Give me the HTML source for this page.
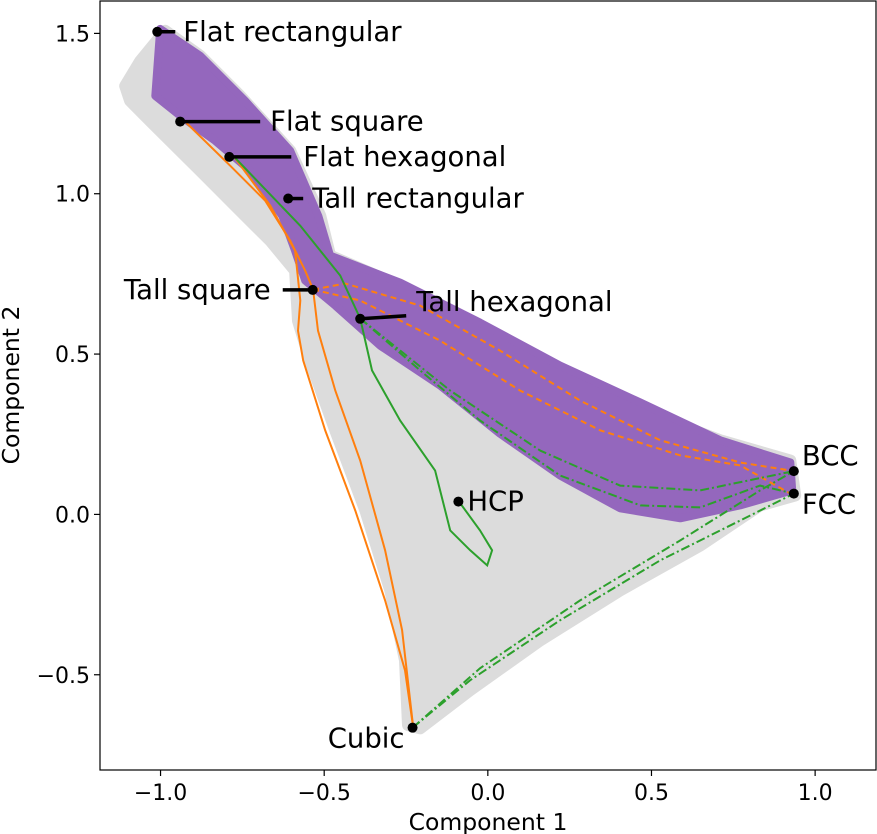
<!DOCTYPE html>
<html><head><meta charset="utf-8"><style>
body{margin:0;background:#fff;}
svg{display:block;font-family:"DejaVu Sans","Liberation Sans",sans-serif;}
</style></head><body>
<svg id="chart" width="877" height="834"></svg>
<script>
const xTicks=[-1.0,-0.5,0.0,0.5,1.0];
const xTickLabels=["\u22121.0","\u22120.5","0.0","0.5","1.0"];
const yTicks=[-0.5,0.0,0.5,1.0,1.5];
const yTickLabels=["\u22120.5","0.0","0.5","1.0","1.5"];
const grayX=[-1.108,-1.062,-0.986,-0.879,-0.757,-0.604,-0.512,-0.482,-0.268,-0.024,0.221,0.466,0.710,0.924,0.939,0.832,0.649,0.404,0.160,-0.054,-0.207,-0.244,-0.253,-0.298,-0.374,-0.466,-0.543,-0.580,-0.589,-0.665,-0.741,-0.879,-1.032,-1.093];
const grayY=[1.336,1.414,1.508,1.430,1.305,1.134,0.931,0.807,0.713,0.573,0.433,0.324,0.231,0.168,0.059,0.028,-0.097,-0.237,-0.393,-0.548,-0.667,-0.657,-0.455,-0.237,0.012,0.262,0.480,0.604,0.760,0.854,0.931,1.072,1.227,1.290];
const purpleX=[-1.001,-0.879,-0.742,-0.604,-0.518,-0.482,-0.268,-0.024,0.221,0.466,0.710,0.924,0.930,0.771,0.588,0.404,0.221,0.037,-0.146,-0.329,-0.466,-0.558,-0.589,-0.628,-0.726,-0.833,-0.940,-1.016];
const purpleY=[1.514,1.430,1.290,1.134,0.931,0.807,0.723,0.598,0.464,0.349,0.231,0.162,0.075,0.028,-0.012,0.019,0.121,0.252,0.402,0.526,0.651,0.729,0.822,0.931,1.072,1.165,1.243,1.305];
const orange1X=[-0.921,-0.787,-0.680,-0.604,-0.558,-0.534,-0.519,-0.466,-0.390,-0.314,-0.262,-0.228];
const orange1Y=[1.221,1.087,0.978,0.854,0.760,0.701,0.573,0.386,0.168,-0.112,-0.361,-0.664];
const orange2X=[-0.775,-0.665,-0.589,-0.573,-0.580,-0.564,-0.497,-0.405,-0.314,-0.253,-0.228];
const orange2Y=[1.115,0.963,0.822,0.667,0.573,0.480,0.262,0.012,-0.268,-0.486,-0.664];
const orangeD1X=[-0.534,-0.436,-0.207,0.037,0.282,0.527,0.771,0.924];
const orangeD1Y=[0.701,0.720,0.651,0.511,0.355,0.231,0.162,0.137];
const orangeD2X=[-0.534,-0.390,-0.146,0.099,0.344,0.588,0.771,0.924];
const orangeD2Y=[0.701,0.667,0.542,0.386,0.262,0.184,0.153,0.065];
const greenX=[-0.775,-0.573,-0.451,-0.390,-0.354,-0.268,-0.161,-0.115,-0.054,-0.002,0.013,-0.024,-0.088];
const greenY=[1.115,0.900,0.745,0.611,0.449,0.293,0.137,-0.050,-0.112,-0.159,-0.112,-0.050,0.040];
const greenD1X=[-0.390,-0.207,-0.024,0.221,0.466,0.649,0.832,0.935];
const greenD1Y=[0.611,0.449,0.293,0.121,0.028,0.022,0.090,0.065];
const greenD2X=[-0.390,-0.115,0.160,0.404,0.649,0.935];
const greenD2Y=[0.611,0.386,0.199,0.090,0.075,0.135];
const greenD3X=[-0.23,-0.054,0.221,0.527,0.771,0.935];
const greenD3Y=[-0.665,-0.517,-0.330,-0.143,-0.019,0.065];
const greenD4X=[-0.23,-0.024,0.282,0.588,0.832,0.935];
const greenD4Y=[-0.665,-0.480,-0.268,-0.081,0.075,0.135];
const ptNames=["Flat rectangular","Flat square","Flat hexagonal","Tall rectangular","Tall square","Tall hexagonal","HCP","BCC","FCC","Cubic"];
const ptX=[-1.01,-0.94,-0.79,-0.61,-0.535,-0.39,-0.09,0.935,0.935,-0.23];
const ptY=[1.505,1.225,1.115,0.985,0.70,0.61,0.04,0.135,0.065,-0.665];

const X0=100,X1=876,Y0=1,Y1=770;
const xmin=-1.185,xmax=1.186,ymin=-0.797,ymax=1.601;
const sx=v=>X0+(v-xmin)/(xmax-xmin)*(X1-X0);
const sy=v=>Y1-(v-ymin)/(ymax-ymin)*(Y1-Y0);
const svg=document.getElementById('chart');
const NS="http://www.w3.org/2000/svg";
function mk(t,a,p){const e=document.createElementNS(NS,t);for(const k in a)e.setAttribute(k,a[k]);(p||svg).appendChild(e);return e;}
function pts(xs,ys){return xs.map((x,i)=>sx(x).toFixed(1)+","+sy(ys[i]).toFixed(1)).join(" ");}

let g=mk('polygon',{points:pts(grayX,grayY),fill:'#dcdcdc',stroke:'#dcdcdc','stroke-width':12,'stroke-linejoin':'round'});


let p=mk('polygon',{points:pts(purpleX,purpleY),fill:'#9467bd',stroke:'#9467bd','stroke-width':8,'stroke-linejoin':'round'});



const lines=[[orange1X,orange1Y,'#ff7f0e',''],[orange2X,orange2Y,'#ff7f0e',''],[orangeD1X,orangeD1Y,'#ff7f0e','6,4'],[orangeD2X,orangeD2Y,'#ff7f0e','6,4'],[greenX,greenY,'#2ca02c',''],[greenD1X,greenD1Y,'#2ca02c','9,3,2,3'],[greenD2X,greenD2Y,'#2ca02c','9,3,2,3'],[greenD3X,greenD3Y,'#2ca02c','9,3,2,3'],[greenD4X,greenD4Y,'#2ca02c','9,3,2,3']];
lines.forEach((l,i)=>{
  const e=mk('polyline',{points:pts(l[0],l[1]),fill:'none',stroke:l[2],'stroke-width':2,'stroke-dasharray':l[3]});
  
  
});

const lab=[[18,26,9,'start'],[80,90,9,'start'],[62,74,9,'start'],[15,24,9,'start'],[-30,-42,9,'end'],[46,56,-8,'start'],[0,9,9,'start'],[0,8,-6,'start'],[0,8,20,'start'],[0,-8,20,'end']];
ptNames.forEach((n,i)=>{
  const cx=sx(ptX[i]),cy=sy(ptY[i]);const L=lab[i];
  if(L[0]!==0){const ln=mk('line',{x1:cx,y1:cy,x2:cx+L[0],y2:cy-(i==5?3:0),stroke:'#000','stroke-width':3.5});
    
    }
  const c=mk('circle',{cx:cx,cy:cy,r:5,fill:'#000'});
  
  
  const t=mk('text',{x:cx+L[1],y:cy+L[2],'font-size':27.5,'text-anchor':L[3],fill:'#000'});
  t.textContent=n;
  
  
});

const fr=mk('rect',{x:X0,y:Y0,width:X1-X0,height:Y1-Y0,fill:'none',stroke:'#000','stroke-width':1.2});


xTicks.forEach((v,i)=>{
  mk('line',{x1:sx(v),x2:sx(v),y1:Y1,y2:Y1+6,stroke:'#000','stroke-width':1.2});
  const t=mk('text',{x:sx(v),y:Y1+30,'font-size':22,'text-anchor':'middle'});t.textContent=xTickLabels[i];
  
  
});
yTicks.forEach((v,i)=>{
  mk('line',{x1:X0-6,x2:X0,y1:sy(v),y2:sy(v),stroke:'#000','stroke-width':1.2});
  const t=mk('text',{x:X0-10,y:sy(v)+8,'font-size':22,'text-anchor':'end'});t.textContent=yTickLabels[i];
  
  
});
let xt=mk('text',{x:(X0+X1)/2,y:830,'font-size':23.5,'text-anchor':'middle'});xt.textContent='Component 1';


let yt=mk('text',{x:0,y:0,'font-size':23.5,'text-anchor':'middle',transform:'translate(19,385) rotate(-90)'});yt.textContent='Component 2';


</script>
</body></html>
